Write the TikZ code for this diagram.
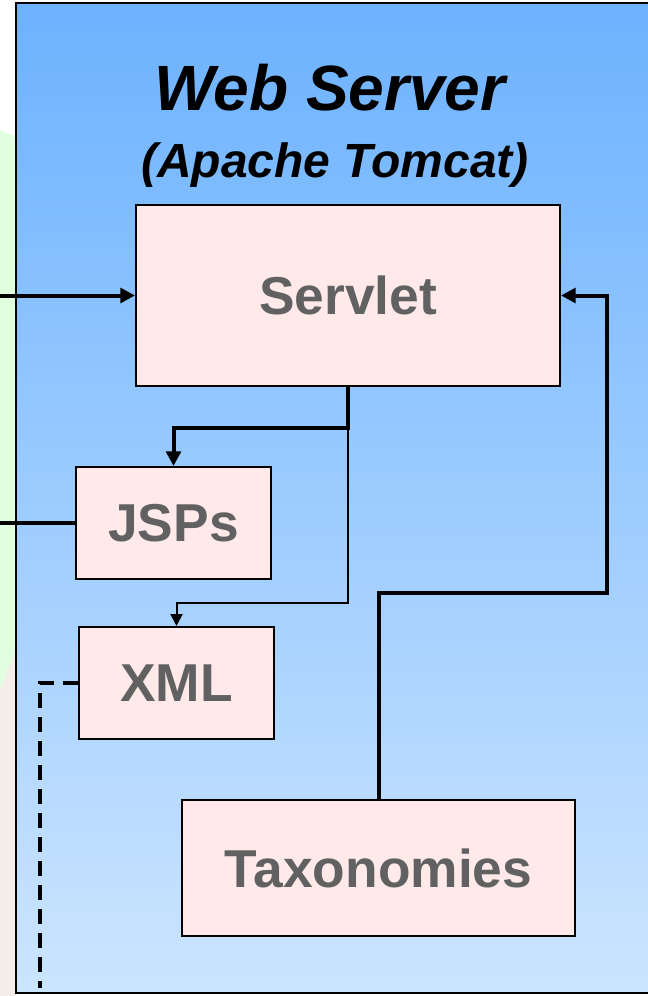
\documentclass[tikz,border=0pt]{standalone}
\usepackage{fontspec}
\setmainfont{Liberation Sans}
\usetikzlibrary{arrows.meta}
\definecolor{skytop}{HTML}{6CB2FF}
\definecolor{skybot}{HTML}{CCE5FF}
\definecolor{boxpink}{HTML}{FFE9E9}
\definecolor{boxtext}{HTML}{616161}
\definecolor{leafgreen}{HTML}{E0FFDE}
\definecolor{sand}{HTML}{F5EEE8}
\begin{document}
\begin{tikzpicture}[x=0.75pt,y=-0.75pt,
    part/.style={draw,line width=1.5pt,fill=boxpink,text=boxtext,
      font=\fontsize{40}{44}\selectfont\bfseries,inner sep=0pt},
    link/.style={line width=3pt,-{Triangle[length=11pt,width=11pt]}},
    thinlink/.style={line width=1.5pt,-{Triangle[length=9pt,width=9pt]}}]
    \useasboundingbox (0,0) rectangle (648,996);
    % left strip
    \fill[white!96!sand] (0,0) rectangle (16,996);
    \fill[leafgreen] (0,130) -- (16,137) -- (16,650) -- (0,690) -- cycle;
    \fill[sand] (0,690) -- (16,650) -- (16,996) -- (0,996) -- cycle;
    % server frame
    \shade[top color=skytop,bottom color=skybot] (16,3) rectangle (652,993);
    \draw[line width=1.5pt] (16,3) rectangle (652,993);
    \node[anchor=base,font=\fontsize{48}{52}\selectfont\bfseries\itshape] (title) at (330,110) {Web Server};
    \node[anchor=base,font=\fontsize{36}{40}\selectfont\bfseries\itshape] (subtitle) at (335,177) {(Apache Tomcat)};
    % boxes
    \node[part,minimum width=318pt,minimum height=135.75pt] (servlet) at (348,295.5) {Servlet};
    \node[part,minimum width=146.25pt,minimum height=84pt] (jsps) at (173.5,523) {JSPs};
    \node[part,minimum width=146.25pt,minimum height=84pt] (xml) at (176.5,683) {XML};
    \node[part,minimum width=294.75pt,minimum height=102pt] (tax) at (378.5,868) {Taxonomies};
    % connectors
    \coordinate (inS) at (0,295.5);
    \coordinate (outJ) at (0,523);
    \coordinate (split) at (348,428);
    \coordinate (bend) at (348,603);
    \coordinate (loop) at (607,593);
    \coordinate (dashC) at (40,683);
    \coordinate (dashE) at (40,988);
    \draw[link] (inS) -- (servlet.west);
    \draw[link] (servlet.south) -- (split) -| (jsps.north);
    \draw[thinlink] (split) -- (bend) -| (xml.north);
    \draw[link] (tax.north) |- (loop) |- (servlet.east);
    \draw[line width=3pt] (jsps.west) -- (outJ);
    \draw[line width=3pt,dash pattern=on 11pt off 7pt] (xml.west) -- (dashC) -- (dashE);
\end{tikzpicture}
\end{document}
